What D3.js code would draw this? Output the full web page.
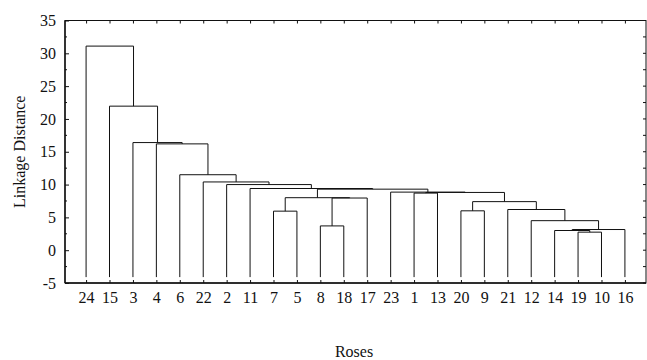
<!DOCTYPE html>
<html>
<head>
<meta charset="utf-8">
<script src="https://cdn.jsdelivr.net/npm/d3@7"></script>
<style>
  html, body { margin: 0; padding: 0; background: #fff; }
  svg { display: block; }
  text { font-family: "Liberation Serif", "Times New Roman", serif; fill: #111; }
</style>
</head>
<body>
<svg id="chart" width="647" height="360"></svg>
<script>
// ---- data ----
const leaves = ["24","15","3","4","6","22","2","11","7","5","8","18","17","23","1","13","20","9","21","12","14","19","10","16"];
// each merge: [left child, right child, linkage distance]
// a child is a leaf label (string) or the index of an earlier merge (number)
const mergeLeft  = ["19", 0, 1,  "12", "21", "20", 5, "1", 7, "23", "8", 10, "7", 12, 13, "11", "2", "22", "6", "4", "3", "15", "24"];
const mergeRight = ["10","14","16", 2,  3,   "9",  4, "13", 6, 8,   "18","17","5", 11, 9,  14,   15,  16,   17,  18,  19,  20,   21];
const mergeHeight = [2.75, 3.0, 3.15, 4.5, 6.2, 6.0, 7.4, 8.7, 8.8, 8.85, 3.7, 7.95, 5.95, 8.0, 9.3, 9.4, 10.0, 10.4, 11.5, 16.2, 16.4, 21.95, 31.1];
const yTicks = [-5, 0, 5, 10, 15, 20, 25, 30, 35];
const yDomain = [-5, 35];
const leafBase = -4.1;
const xTitle = "Roses";
const yTitle = "Linkage Distance";

// ---- layout ----
const L = 65, R = 646, T = 20.5, B = 283;
const svg = d3.select("#chart");

const x = d3.scalePoint().domain(leaves).range([L, R]).padding(0.9);
const y = d3.scaleLinear().domain(yDomain).range([B, T]);

// node positions
const nodeX = [], nodeH = [];
function cx(c) { return typeof c === "string" ? x(c) : nodeX[c]; }
function ch(c) { return typeof c === "string" ? leafBase : nodeH[c]; }
mergeHeight.forEach((h, i) => {
  nodeX[i] = (cx(mergeLeft[i]) + cx(mergeRight[i])) / 2;
  nodeH[i] = h;
});

// links
const g = svg.append("g");
g.selectAll("path.link")
  .data(mergeHeight.map((h, i) => i))
  .join("path")
  .attr("class", "link")
  .attr("fill", "none")
  .attr("stroke", "#111")
  .attr("stroke-width", 1)
  .attr("d", i => {
    const a = mergeLeft[i], b = mergeRight[i];
    const p = d3.path();
    p.moveTo(cx(a), y(ch(a)));
    p.lineTo(cx(a), y(nodeH[i]));
    p.lineTo(cx(b), y(nodeH[i]));
    p.lineTo(cx(b), y(ch(b)));
    return p.toString();
  });

// axes
const fontSize = 16;
const yAxis = svg.append("g").attr("transform", `translate(${L},0)`)
  .call(d3.axisLeft(y).tickValues(yTicks).tickSize(-4).tickPadding(9).tickFormat(d => String(d)));
yAxis.select(".domain").remove();
yAxis.selectAll("text").style("font-size", fontSize + "px").style("font-family", '"Liberation Serif", serif');
yAxis.selectAll("line").attr("stroke", "#111");

// minor ticks on left and right
const minor = d3.range(yDomain[0], yDomain[1] + 0.01, 2.5).filter(v => v % 5 !== 0);
svg.append("g").selectAll("line").data(minor).join("line")
  .attr("x1", L).attr("x2", L + 2).attr("y1", d => y(d)).attr("y2", d => y(d)).attr("stroke", "#111");
svg.append("g").selectAll("line").data(d3.range(yDomain[0], yDomain[1] + 0.01, 2.5)).join("line")
  .attr("x1", R).attr("x2", R - 3).attr("y1", d => y(d)).attr("y2", d => y(d)).attr("stroke", "#111");

const xAxis = svg.append("g").attr("transform", `translate(0,${B})`)
  .call(d3.axisBottom(x).tickSize(-3).tickPadding(9));
xAxis.select(".domain").remove();
xAxis.selectAll("text").style("font-size", fontSize + "px").style("font-family", '"Liberation Serif", serif');
xAxis.selectAll("line").attr("stroke", "#111");

const xTop = svg.append("g").attr("transform", `translate(0,${T})`)
  .call(d3.axisTop(x).tickSize(-3).tickFormat(""));
xTop.select(".domain").remove();
xTop.selectAll("line").attr("stroke", "#111");

// frame
svg.append("rect").attr("x", L).attr("y", T).attr("width", R - L).attr("height", B - T)
  .attr("fill", "none").attr("stroke", "#111").attr("stroke-width", 1);
svg.append("line").attr("x1", L).attr("x2", R).attr("y1", B).attr("y2", B)
  .attr("stroke", "#111").attr("stroke-width", 1.6);
svg.append("line").attr("x1", L).attr("x2", L).attr("y1", T).attr("y2", B)
  .attr("stroke", "#111").attr("stroke-width", 1.4);

// titles
svg.append("text")
  .attr("transform", `translate(21,${(T + B) / 2}) rotate(-90)`)
  .attr("text-anchor", "middle")
  .attr("dominant-baseline", "middle")
  .style("font-size", fontSize + "px")
  .text(yTitle);
svg.append("text")
  .attr("x", 354).attr("y", 357)
  .attr("text-anchor", "middle")
  .style("font-size", fontSize + "px")
  .text(xTitle);
</script>
</body>
</html>
